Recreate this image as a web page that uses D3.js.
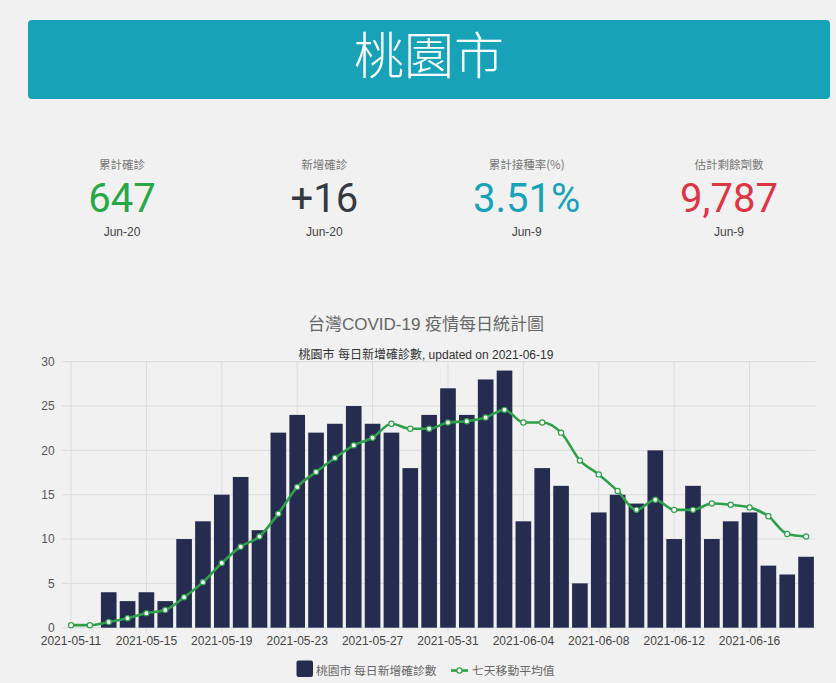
<!DOCTYPE html>
<html><head><meta charset="utf-8">
<script src="https://cdn.jsdelivr.net/npm/d3@7"></script>
<style>
html,body{margin:0;padding:0;background:#f1f1f1;}
svg{display:block;}
</style></head>
<body>
<svg id="c" width="836" height="683"></svg>
<script>
const cityName = "桃園市";
const statLabels = ["累計確診","新增確診","累計接種率(%)","估計剩餘劑數"];
const statValues = ["647","+16","3.51%","9,787"];
const statDates = ["Jun-20","Jun-20","Jun-9","Jun-9"];
const chartTitle = "台灣COVID-19 疫情每日統計圖";
const chartSubtitle = "桃園市 每日新增確診數, updated on 2021-06-19";
const barSeriesName = "桃園市 每日新增確診數";
const lineSeriesName = "七天移動平均值";
const dates = ["2021-05-11","2021-05-12","2021-05-13","2021-05-14","2021-05-15","2021-05-16","2021-05-17","2021-05-18","2021-05-19","2021-05-20",
"2021-05-21","2021-05-22","2021-05-23","2021-05-24","2021-05-25","2021-05-26","2021-05-27","2021-05-28","2021-05-29","2021-05-30",
"2021-05-31","2021-06-01","2021-06-02","2021-06-03","2021-06-04","2021-06-05","2021-06-06","2021-06-07","2021-06-08","2021-06-09",
"2021-06-10","2021-06-11","2021-06-12","2021-06-13","2021-06-14","2021-06-15","2021-06-16","2021-06-17","2021-06-18","2021-06-19"];
const dailyCases = [0,0,4,3,4,3,10,12,15,17,11,22,24,22,23,25,23,22,18,24,27,24,28,29,12,18,16,5,13,15,14,20,10,16,10,12,13,7,6,8];
const avg7 = [0.29,0.29,0.64,1.07,1.64,2.0,3.43,5.14,7.29,9.14,10.29,12.86,15.86,17.57,19.14,20.57,21.43,23.0,22.43,22.43,23.14,23.29,23.71,24.57,23.14,23.14,22.0,18.86,17.29,15.43,13.29,14.43,13.29,13.29,14.0,13.86,13.57,12.57,10.57,10.29];
const xTickLabels = ["2021-05-11","2021-05-15","2021-05-19","2021-05-23","2021-05-27","2021-05-31","2021-06-04","2021-06-08","2021-06-12","2021-06-16"];
const yTicks = [0,5,10,15,20,25,30];

const statColors = ["#28a745","#343a40","#17a2b8","#dc3545"];
const FONT = "'Liberation Sans', Arial, 'Noto Sans CJK TC', sans-serif";
const CJK = "'Noto Sans CJK TC', 'Liberation Sans', sans-serif";
const svg = d3.select("#c");

// header banner
svg.append("rect").attr("x",28).attr("y",20).attr("width",802).attr("height",79).attr("rx",4).attr("fill","#17a2b8");
svg.append("text").attr("x",429).attr("y",74).attr("text-anchor","middle")
  .attr("font-family",CJK).attr("font-weight",300).attr("font-size",50).attr("fill","#fff").text(cityName);

// stats
const cx = d3.scalePoint().domain(d3.range(4)).range([122,729]);
const g = svg.append("g");
statLabels.forEach((s,i)=>{
  g.append("text").attr("x",cx(i)).attr("y",169).attr("text-anchor","middle")
   .attr("font-family",CJK).attr("font-size",11.5).attr("fill","#777").text(s);
  g.append("text").attr("x",cx(i)).attr("y",212).attr("text-anchor","middle")
   .attr("font-family","Roboto, 'Liberation Sans', sans-serif").attr("font-weight",400).attr("font-size",40).attr("fill",statColors[i]).text(statValues[i]);
  g.append("text").attr("x",cx(i)).attr("y",236).attr("text-anchor","middle")
   .attr("font-family",FONT).attr("font-size",12).attr("fill","#444").text(statDates[i]);
});

// chart titles
svg.append("text").attr("x",426).attr("y",330).attr("text-anchor","middle")
  .attr("font-family",FONT).attr("font-size",17).attr("fill","#666").text(chartTitle);
svg.append("text").attr("x",426).attr("y",359).attr("text-anchor","middle")
  .attr("font-family",FONT).attr("font-size",12).attr("fill","#333").text(chartSubtitle);

// scales
const L=61.6, R=815.5, T=361.7, B=627.7;
const x = d3.scaleBand().domain(dates).range([L,R]).padding(0);
const y = d3.scaleLinear().domain([0,30]).range([B,T]);
const xc = d => x(d)+x.bandwidth()/2;

// grid
const grid = svg.append("g");
grid.selectAll("line.h").data(yTicks).join("line")
  .attr("x1",L).attr("x2",R).attr("y1",d=>y(d)).attr("y2",d=>y(d))
  .attr("stroke","#dcdcdc").attr("stroke-width",1);
grid.selectAll("line.v").data(xTickLabels).join("line")
  .attr("x1",d=>xc(d)).attr("x2",d=>xc(d)).attr("y1",T).attr("y2",B+4)
  .attr("stroke","#dcdcdc").attr("stroke-width",1);

// axes
const yAxis = svg.append("g").attr("transform",`translate(${L},0)`)
  .call(d3.axisLeft(y).tickValues(yTicks).tickSize(0).tickPadding(7));
yAxis.select(".domain").remove();
yAxis.selectAll("text").attr("font-family",FONT).attr("font-size",12).attr("fill","#555");

const xAxis = svg.append("g").attr("transform",`translate(0,${B})`)
  .call(d3.axisBottom(x).tickValues(xTickLabels).tickSize(0).tickPadding(9));
xAxis.select(".domain").remove();
xAxis.selectAll("text").attr("font-family",FONT).attr("font-size",12).attr("fill","#444");

// bars
const bw = x.bandwidth()*0.83;
svg.append("g").selectAll("rect").data(dates).join("rect")
  .attr("x",(d)=>xc(d)-bw/2).attr("width",bw)
  .attr("y",(d,i)=>y(dailyCases[i])).attr("height",(d,i)=>B-y(dailyCases[i]))
  .attr("fill","#252c4f");

// line
const green = "#2ea049";
const line = d3.line().x((d,i)=>xc(dates[i])).y(d=>y(d)).curve(d3.curveMonotoneX);
svg.append("path").datum(avg7).attr("d",line).attr("fill","none").attr("stroke",green).attr("stroke-width",2.6);
svg.append("g").selectAll("circle").data(avg7).join("circle")
  .attr("cx",(d,i)=>xc(dates[i])).attr("cy",d=>y(d)).attr("r",2.6)
  .attr("fill","#fff").attr("stroke",green).attr("stroke-width",1.2);

// legend
const lg = svg.append("g");
lg.append("rect").attr("x",296.5).attr("y",660.5).attr("width",16.5).attr("height",16.5).attr("rx",2).attr("fill","#252c4f");
lg.append("text").attr("x",316).attr("y",675).attr("font-family",CJK).attr("font-size",11.8).attr("fill","#666").text(barSeriesName);
lg.append("line").attr("x1",451).attr("x2",468).attr("y1",670.5).attr("y2",670.5).attr("stroke",green).attr("stroke-width",2.6);
lg.append("circle").attr("cx",459.5).attr("cy",670.5).attr("r",2.6).attr("fill","#fff").attr("stroke",green).attr("stroke-width",1.2);
lg.append("text").attr("x",472).attr("y",675).attr("font-family",CJK).attr("font-size",11.8).attr("fill","#666").text(lineSeriesName);
</script>
</body></html>
